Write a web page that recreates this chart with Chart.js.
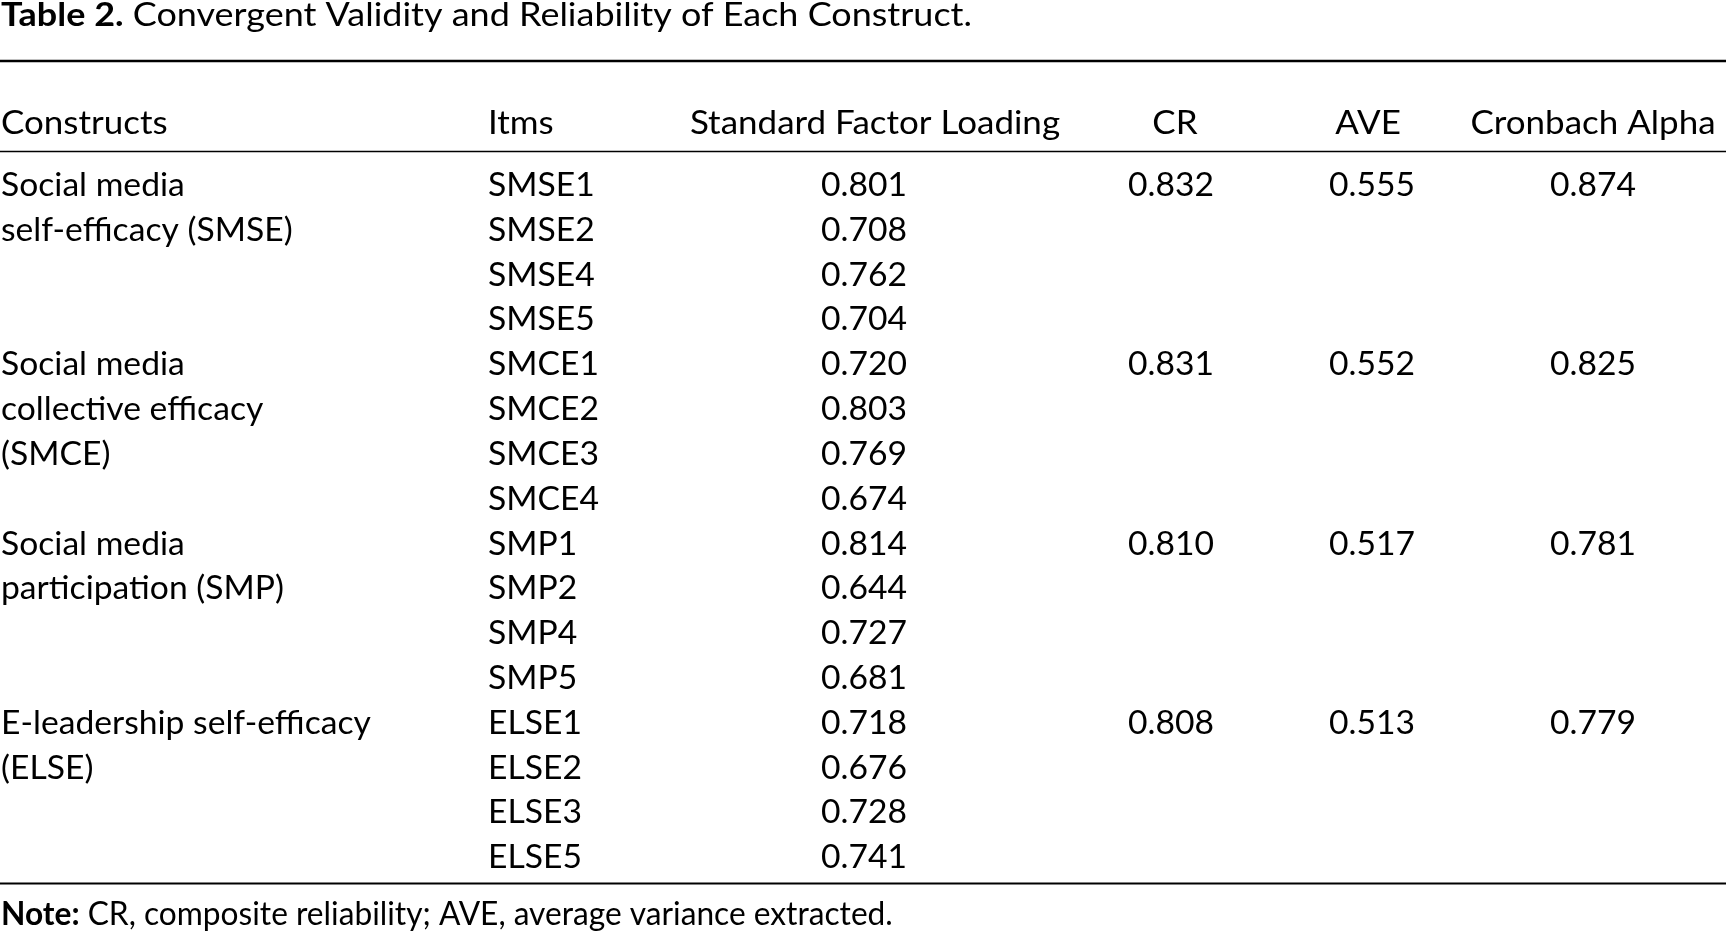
<!DOCTYPE html>
<html>
<head>
<meta charset="utf-8">
<title>Table 2</title>
<script src="https://cdn.jsdelivr.net/npm/chart.js@4.4.1/dist/chart.umd.min.js"></script>
<style>
    html, body { margin: 0; padding: 0; background: #fff; }
    #wrap { width: 1726px; height: 934px; }
</style>
</head>
<body>
<div id="wrap"><canvas id="table-chart"></canvas></div>
<script>
// table content
const headers = ['Constructs', 'Itms', 'Standard Factor Loading', 'CR', 'AVE', 'Cronbach Alpha'];
const constructLines = [
    ['Social media', 'self-efficacy (SMSE)'],
    ['Social media', 'collective efficacy', '(SMCE)'],
    ['Social media', 'participation (SMP)'],
    ['E-leadership self-efficacy', '(ELSE)']
];
const items = ['SMSE1', 'SMSE2', 'SMSE4', 'SMSE5',
               'SMCE1', 'SMCE2', 'SMCE3', 'SMCE4',
               'SMP1', 'SMP2', 'SMP4', 'SMP5',
               'ELSE1', 'ELSE2', 'ELSE3', 'ELSE5'];
const loadings = [0.801, 0.708, 0.762, 0.704,
                  0.720, 0.803, 0.769, 0.674,
                  0.814, 0.644, 0.727, 0.681,
                  0.718, 0.676, 0.728, 0.741];
const crValues = [0.832, 0.831, 0.810, 0.808];
const aveValues = [0.555, 0.552, 0.517, 0.513];
const alphaValues = [0.874, 0.825, 0.781, 0.779];
const itemsPerConstruct = 4;

const titleBold = 'Table 2.';
const titleRest = ' Convergent Validity and Reliability of Each Construct.';
const noteBold = 'Note:';
const noteRest = ' CR, composite reliability; AVE, average variance extracted.';

// layout (pixels / row units)
const W = 1726, H = 934;
const firstBaseline = 196, rowPitch = 44.82;
const yMin = -firstBaseline / rowPitch;
const yMax = yMin + H / rowPitch;
const rowOf = px => (px - firstBaseline) / rowPitch;

const titleRow = rowOf(26);
const topRuleRow = rowOf(61);
const headerRow = rowOf(134);
const headRuleRow = rowOf(151.5);
const bottomRuleRow = rowOf(883.5);
const noteRow = rowOf(925);

const columns = [
    { body: 1, head: 1, align: 'left' },
    { body: 488, head: 488, align: 'left' },
    { body: 864, head: 875, align: 'center' },
    { body: 1171, head: 1175, align: 'center' },
    { body: 1372, head: 1368, align: 'center' },
    { body: 1593, head: 1593, align: 'center' }
];

const FONT = '"Lato", "Open Sans", sans-serif';
const HEAD = { size: 33, stretch: 1.06 };
const CELL = { size: 33, stretch: 1.02 };
const TITLE = { size: 33, stretch: 1.09 };
const NOTE = { size: 32, stretch: 0.99 };

// build one dataset per column
const groupStarts = constructLines.map((_, g) => g * itemsPerConstruct);
const constructCells = [];
constructLines.forEach((lines, g) => {
    lines.forEach((line, k) => constructCells.push({ text: line, row: groupStarts[g] + k }));
});
const fmt = v => v.toFixed(3);

const columnCells = [
    constructCells,
    items.map((t, i) => ({ text: t, row: i })),
    loadings.map((v, i) => ({ text: fmt(v), row: i })),
    crValues.map((v, g) => ({ text: fmt(v), row: groupStarts[g] })),
    aveValues.map((v, g) => ({ text: fmt(v), row: groupStarts[g] })),
    alphaValues.map((v, g) => ({ text: fmt(v), row: groupStarts[g] }))
];

const datasets = columnCells.map((cells, c) => ({
    label: headers[c],
    texts: cells.map(d => d.text),
    aligns: cells.map(() => columns[c].align),
    textStyle: CELL,
    data: cells.map(d => ({ x: columns[c].body, y: d.row })),
    pointRadius: 0
}));
datasets.push({
    label: 'header',
    texts: headers,
    aligns: columns.map(c => c.align),
    textStyle: HEAD,
    data: headers.map((h, c) => ({ x: columns[c].head, y: headerRow })),
    pointRadius: 0
});

// draw text squeezed/stretched horizontally around its anchor
const drawText = (ctx, text, x, y, style, weight = '') => {
    ctx.save();
    ctx.font = `${weight} ${style.size}px ${FONT}`;
    ctx.translate(x, y);
    ctx.scale(style.stretch, 1);
    ctx.fillText(text, 0, 0);
    const w = ctx.measureText(text).width * style.stretch;
    ctx.restore();
    return w;
};

const tablePlugin = {
    id: 'tableText',
    beforeDatasetsDraw(chart) {
        const { ctx, chartArea, scales } = chart;
        ctx.save();
        ctx.strokeStyle = '#000';
        [[topRuleRow, 2.4], [headRuleRow, 1.4], [bottomRuleRow, 2]].forEach(([row, w]) => {
            const y = scales.y.getPixelForValue(row);
            ctx.lineWidth = w;
            ctx.beginPath();
            ctx.moveTo(chartArea.left, y);
            ctx.lineTo(chartArea.right, y);
            ctx.stroke();
        });
        ctx.restore();
    },
    afterDatasetsDraw(chart) {
        const { ctx, scales } = chart;
        ctx.save();
        ctx.fillStyle = '#000';
        ctx.textBaseline = 'alphabetic';
        chart.data.datasets.forEach((ds, i) => {
            const meta = chart.getDatasetMeta(i);
            meta.data.forEach((pt, j) => {
                ctx.textAlign = ds.aligns[j];
                drawText(ctx, ds.texts[j], pt.x, pt.y, ds.textStyle);
            });
        });

        // title and note with bold lead-in
        ctx.textAlign = 'left';
        const mixed = (bold, rest, row, style) => {
            const y = scales.y.getPixelForValue(row);
            const x = scales.x.getPixelForValue(1);
            const bw = drawText(ctx, bold, x, y, style, 'bold');
            drawText(ctx, rest, x + bw, y, style);
        };
        mixed(titleBold, titleRest, titleRow, TITLE);
        mixed(noteBold, noteRest, noteRow, NOTE);
        ctx.restore();
    }
};

new Chart(document.getElementById('table-chart'), {
    type: 'scatter',
    data: { datasets: datasets },
    options: {
        responsive: true,
        maintainAspectRatio: false,
        animation: false,
        layout: { padding: 0 },
        scales: {
            x: { type: 'linear', display: false, min: 0, max: W },
            y: { type: 'linear', display: false, reverse: true, min: yMin, max: yMax }
        },
        plugins: {
            legend: { display: false },
            tooltip: { enabled: false },
            title: { display: false }
        }
    },
    plugins: [tablePlugin]
});
</script>
</body>
</html>
